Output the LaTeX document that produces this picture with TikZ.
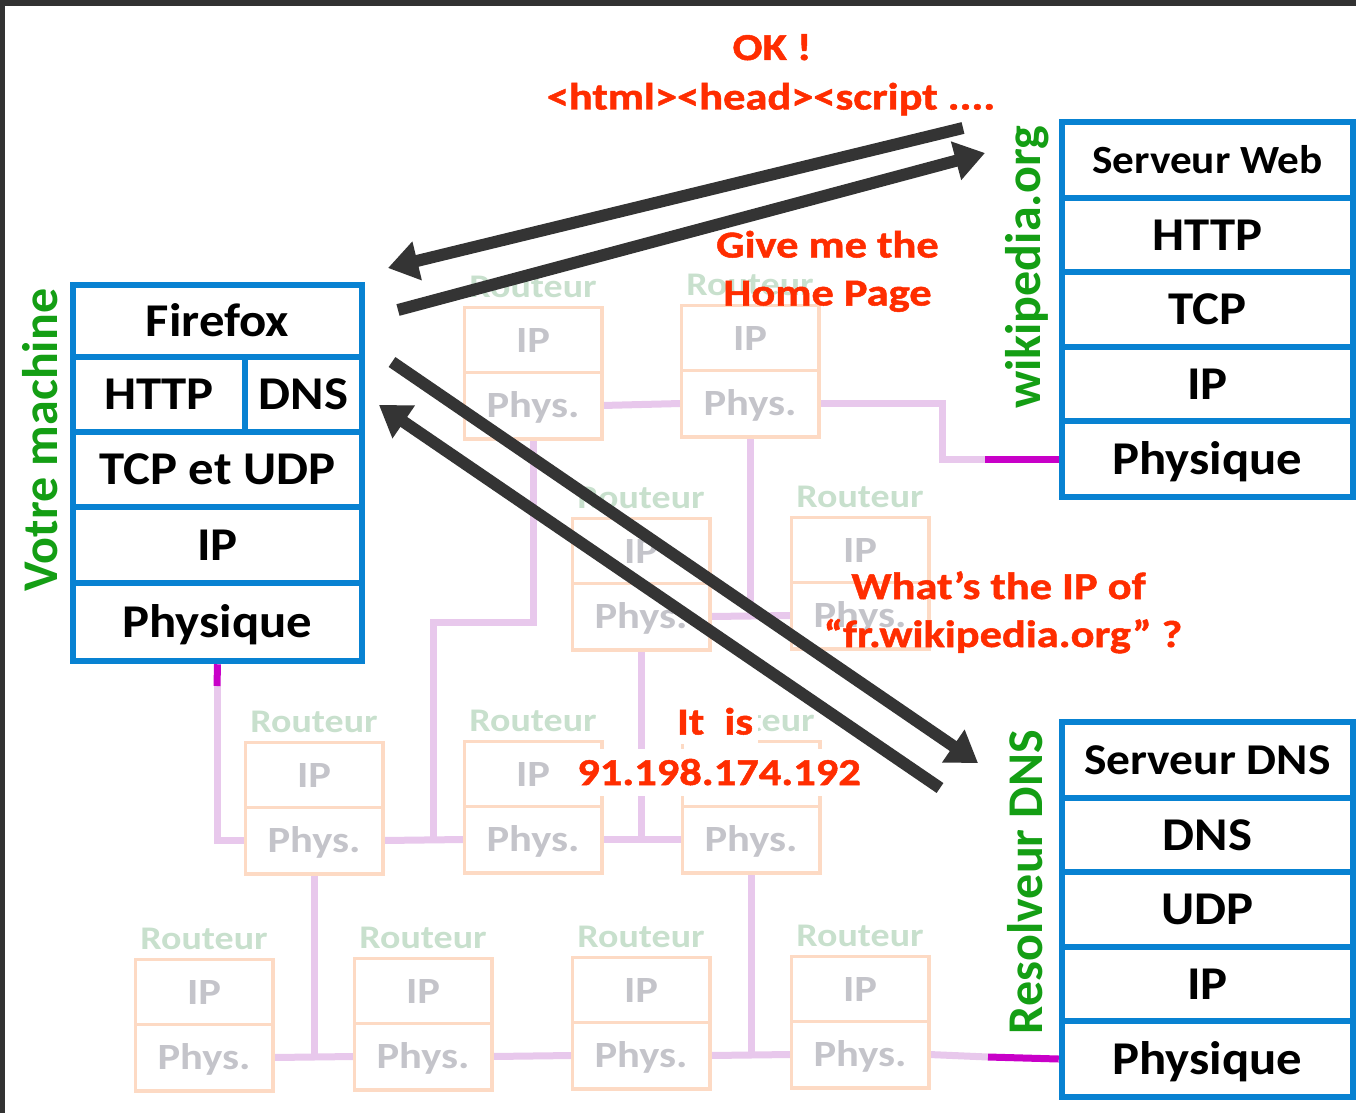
\documentclass[tikz,border=0pt]{standalone}
\usepackage{fontspec}
\setmainfont{Carlito}
\newfontfamily\blkf[FakeStretch=1.08]{Carlito}
\newfontfamily\redf[FakeStretch=1.17,FakeBold=1.3]{Carlito}
\newfontfamily\rtrf[FakeStretch=1.15]{Carlito}
\usetikzlibrary{arrows.meta}
\definecolor{framec}{RGB}{50,50,50}
\definecolor{stackblue}{RGB}{8,130,210}
\definecolor{labgreen}{RGB}{20,158,20}
\definecolor{msgred}{RGB}{255,45,0}
\definecolor{arrowgray}{RGB}{52,52,52}
\definecolor{linkpink}{RGB}{232,200,236}
\definecolor{linkmag}{RGB}{200,0,200}
\definecolor{rborder}{RGB}{253,218,196}
\definecolor{rtext}{RGB}{196,196,202}
\definecolor{rlabel}{RGB}{200,224,205}
\newcommand\rtr[3]{%
  \node[rcell] (#1i) at ({#2+68},{#3+32.5}) {IP};
  \node[rcell] (#1p) at ({#2+68},{#3+97.5}) {Phys.};
  \node[rlab] (#1l) at ({#2+68},{#3-21}) {Routeur};
}
\begin{document}
\begin{tikzpicture}[x=1pt,y=-1pt,
  cell/.style={draw=stackblue, line width=6.5pt, fill=white, inner sep=0pt,
    font=\blkf\bfseries\fontsize{47}{47}\selectfont, text height=30pt, text depth=0pt},
  smallcell/.style={cell, font=\blkf\bfseries\fontsize{#1}{#1}\selectfont},
  rcell/.style={draw=rborder, line width=2.5pt, fill=white, inner sep=0pt,
    minimum width=136pt, minimum height=65pt, text=rtext,
    font=\rtrf\bfseries\fontsize{37}{37}\selectfont, text height=24pt, text depth=0pt},
  rlab/.style={text=rlabel, inner sep=0pt, font=\rtrf\bfseries\fontsize{33}{33}\selectfont,
    text height=21pt, text depth=0pt},
  glab/.style={text=labgreen, inner sep=0pt, rotate=90,
    font=\bfseries\fontsize{50}{50}\selectfont, text height=32pt, text depth=0pt},
  msg/.style={text=msgred, inner sep=0pt, font=\redf\bfseries\fontsize{38}{38}\selectfont,
    text height=25pt, text depth=0pt},
  link/.style={draw=linkpink, line width=7pt},
  hot/.style={draw=linkmag, line width=7pt},
  bigarrow/.style={draw=arrowgray, line width=12pt, -{Triangle[length=30pt,width=38pt]}}]
\useasboundingbox (0,0) rectangle (1356,1113);
\fill[framec] (0,0) rectangle (1356,1113);
\fill[white] (5,6) rectangle (1356,1113);

% routers
\rtr{ra}{465}{308}
\rtr{rb}{682}{306}
\rtr{rc}{573}{519}
\rtr{rd}{792}{518}
\rtr{re}{246}{743}
\rtr{rf}{465}{742}
\rtr{rg}{683}{742}
\rtr{rh}{136}{960}
\rtr{ri}{355}{959}
\rtr{rj}{573}{958}
\rtr{rk}{792}{957}

% stacks
\node[cell, minimum width=289pt, minimum height=72pt] (lff) at (217.5,321) {Firefox};
\node[cell, minimum width=172pt, minimum height=75pt] (lhttp) at (159,394.5) {HTTP};
\node[cell, minimum width=117pt, minimum height=75pt] (ldns) at (303.5,394.5) {DNS};
\node[cell, minimum width=289pt, minimum height=75pt] (ltcp) at (217.5,469.5) {TCP et UDP};
\node[cell, minimum width=289pt, minimum height=76pt] (lip) at (217.5,545) {IP};
\node[cell, minimum width=289pt, minimum height=78pt] (lphy) at (217.5,622) {Physique};

\node[smallcell=40, minimum width=291pt, minimum height=76pt, text height=26pt] (wsw) at (1207.5,160) {Serveur Web};
\node[cell, minimum width=291pt, minimum height=74pt] (whttp) at (1207.5,235) {HTTP};
\node[cell, minimum width=291pt, minimum height=75pt] (wtcp) at (1207.5,309.5) {TCP};
\node[cell, minimum width=291pt, minimum height=74pt] (wip) at (1207.5,384) {IP};
\node[cell, minimum width=291pt, minimum height=76pt] (wphy) at (1207.5,459) {Physique};

\node[smallcell=44, minimum width=291pt, minimum height=76pt, text height=28pt] (dsd) at (1207.5,760) {Serveur DNS};
\node[cell, minimum width=291pt, minimum height=74pt] (ddns) at (1207.5,835) {DNS};
\node[cell, minimum width=291pt, minimum height=75pt] (dudp) at (1207.5,909.5) {UDP};
\node[cell, minimum width=291pt, minimum height=74pt] (dip) at (1207.5,984) {IP};
\node[cell, minimum width=291pt, minimum height=76pt] (dphy) at (1207.5,1059) {Physique};

% green labels
\node[glab] (vm) at (41,440) {Votre machine};
\node[glab] (wk) at (1024,267.5) {wikipedia.org};
\node[glab] (rs) at (1026,882) {Resolveur DNS};

% link coordinates
\coordinate (lm) at (217,686);
\coordinate (c1) at (433,622);
\coordinate (c2) at (942,459);
\coordinate (wm) at (985,459);
\coordinate (dm) at (988,1057);

% pink links
\draw[link] (lm) |- (rep.west);
\draw[link] (rep.east) -- (rfp.west);
\draw[link] (rfp.east) -- (rgp.west);
\draw[link] (rap.south) |- (c1) -- (c1 |- rfp.west);
\draw[link] (rap.east) -- (rbp.west);
\draw[link] (rbp.east) -| (c2) -- (wm);
\draw[link] (rbp.south) -- (rbp.south |- rdp.west);
\draw[link] (rcp.east) -- (rdp.west);
\draw[link] (rcp.south) -- (rcp.south |- rgp.west);
\draw[link] (rep.south) -- (rep.south |- rip.west);
\draw[link] (rhp.east) -- (rip.west);
\draw[link] (rip.east) -- (rjp.west);
\draw[link] (rjp.east) -- (rkp.west);
\draw[link] (rgp.south) -- (rgp.south |- rkp.west);
\draw[link] (rkp.east) -- (dm);

% redraw router boxes over link ends
\foreach \r in {ra,rb,rc,rd,re,rf,rg,rh,ri,rj,rk}{
  \draw[rborder, line width=2.5pt] (\r i.north west) rectangle (\r p.south east);
  \draw[rborder, line width=2.5pt] (\r p.north west) -- (\r p.north east);
}

% magenta links
\draw[hot] (lphy.south) -- (lm);
\draw[hot] (wm) -- (wphy.west);
\draw[hot] (dm) -- (dphy.west);

% arrows
\coordinate (a1s) at (963,128);
\coordinate (a1e) at (388,268);
\coordinate (a2s) at (398,310);
\coordinate (a2e) at (985,153);
\coordinate (a3s) at (392,362);
\coordinate (a3e) at (978,763);
\coordinate (a4s) at (940,788);
\coordinate (a4e) at (379,405);
\draw[bigarrow] (a1s) -- (a1e);
\draw[bigarrow] (a2s) -- (a2e);
\draw[bigarrow] (a3s) -- (a3e);
\draw[bigarrow] (a4s) -- (a4e);

% messages
\node[msg] (ok) at (772,47.5) {OK !};
\node[msg] (html) at (771,97) {<html><head><script ....};
\node[msg] (give) at (827.5,245) {Give me the};
\node[msg] (home) at (827.5,293) {Home Page};
\node[msg] (what) at (998.5,586.5) {What’s the IP of};
\node[msg] (frw) at (1003,634.5) {“fr.wikipedia.org” ?};
\node[msg, fill=white, inner xsep=5pt, inner ysep=9pt] (itis) at (715,722) {It\ \ is};
\node[msg, fill=white, inner xsep=6pt, inner ysep=11pt] (ipaddr) at (719,772.5) {91.198.174.192};
\end{tikzpicture}
\end{document}
